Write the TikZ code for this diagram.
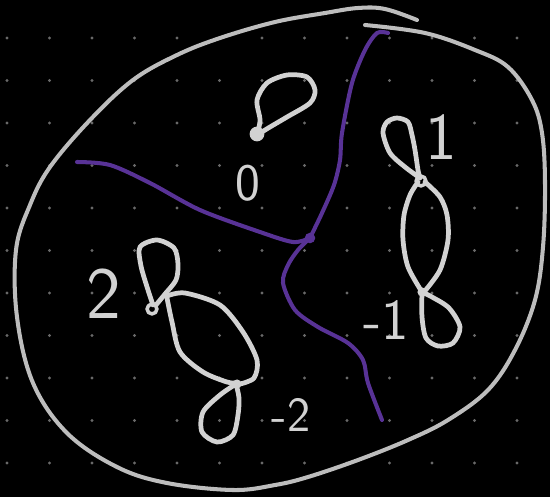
\documentclass[tikz,border=0pt]{standalone}
\usepackage{tikz}
\definecolor{chalk}{RGB}{210,210,210}
\definecolor{cutviolet}{RGB}{88,50,150}
\definecolor{dotgray}{RGB}{105,105,105}

\begin{document}
\begin{tikzpicture}[x=0.02cm, y=-0.02cm,
  chalkline/.style={draw=chalk, line width=2.7pt, line cap=round, line join=round},
  rim/.style={draw=chalk!90!black, line width=2.3pt, line cap=round},
  cut/.style={draw=cutviolet, line width=2.3pt, line cap=round, line join=round},
  tag/.style={text=chalk, font=\sffamily, inner sep=0pt}
]
\fill[black] (0,0) rectangle (550,497);
\useasboundingbox (0,0) rectangle (550,497);

% dot grid
\foreach \i in {0,...,12}
  \foreach \j in {0,...,10}
    \fill[dotgray] (7+42.5*\i,38+42.5*\j) circle (0.95pt);

% outer boundary
\draw[rim] plot[smooth, tension=0.6] coordinates {(365,25) (425,33) (475,50) (508,67)
  (532,100) (542,133) (545,183) (543,247) (535,300) (515,350) (488,390) (448,420)
  (408,440) (358,460) (308,477) (275,485) (233,490) (167,483) (117,467) (67,433)
  (33,383) (17,317) (16,250) (30,205) (50,167) (90,120) (133,80) (177,55) (220,38)
  (275,22) (325,13) (358,8) (385,9) (417,20)};

% violet cut
\coordinate (jn) at (310,238);
\draw[cut] plot[smooth] coordinates {(77,162) (110,165) (150,183) (200,210) (260,232) (293,242) (310,238)};
\draw[cut] plot[smooth] coordinates {(310,238) (322,213) (334,185) (340,160) (342,133) (352,83) (365,50) (377,33) (388,33)};
\draw[cut] plot[smooth] coordinates {(310,238) (298,250) (288,265) (283,283) (295,310) (318,327)
  (348,343) (363,360) (368,383) (382,420)};
\fill[cutviolet] (jn) circle (3pt);

% loop at the top
\draw[chalkline] plot[smooth] coordinates {(257,135) (260,120) (257,100) (267,83) (287,75) (307,77)
  (315,90) (310,103) (287,117) (270,127) (257,135)};
\fill[chalk] (257,134) circle (4.2pt);
\node[tag, font=\sffamily\fontsize{30}{30}\selectfont] (zero) at (248,183) {0};

% right figure
\draw[chalkline] plot[smooth] coordinates {(420,178) (405,167) (390,153) (383,133) (387,122)
  (397,118) (408,122) (412,135) (415,150) (418,170) (420,178)};
\draw[chalkline] plot[smooth] coordinates {(418,182) (410,195) (404,215) (403,240) (408,267) (422,292)};
\draw[chalkline] plot[smooth] coordinates {(425,182) (440,197) (447,215) (448,240) (440,270) (424,292)};
\draw[chalkline] plot[smooth] coordinates {(422,292) (422,317) (426,338) (438,346) (453,343)
  (460,327) (449,308) (432,297) (422,292)};
\draw[chalkline, line width=2pt] (421,181) circle (2.8pt);
\fill[chalk] (422,292) circle (2.6pt);
\node[tag, font=\sffamily\fontsize{38}{38}\selectfont] (one) at (441,137) {1};
\node[tag, font=\sffamily\fontsize{33}{33}\selectfont] (minusone) at (386,320) {-1};

% bottom left figure
\draw[chalkline] plot[smooth] coordinates {(153,305) (148,290) (141,266) (140,247) (157,240)
  (174,248) (178,264) (176,280) (165,294) (156,305)};
\draw[chalkline, line width=2pt] (152,309) circle (2.8pt);
\draw[chalkline] plot[smooth] coordinates {(167,298) (172,322) (180,352) (203,372) (227,382) (237,383)};
\draw[chalkline] plot[smooth] coordinates {(167,296) (185,293) (220,305) (243,332) (257,360) (254,378) (240,384)};
\draw[chalkline] plot[smooth] coordinates {(236,384) (239,398) (238,415) (233,435) (217,442)
  (202,432) (203,412) (220,395) (236,384)};
\fill[chalk] (237,384) circle (2.6pt);
\node[tag, font=\sffamily\fontsize{42}{42}\selectfont] (two) at (104,294) {2};
\node[tag, font=\sffamily\fontsize{28}{28}\selectfont] (minustwo) at (291,415) {-2};
\end{tikzpicture}
\end{document}
